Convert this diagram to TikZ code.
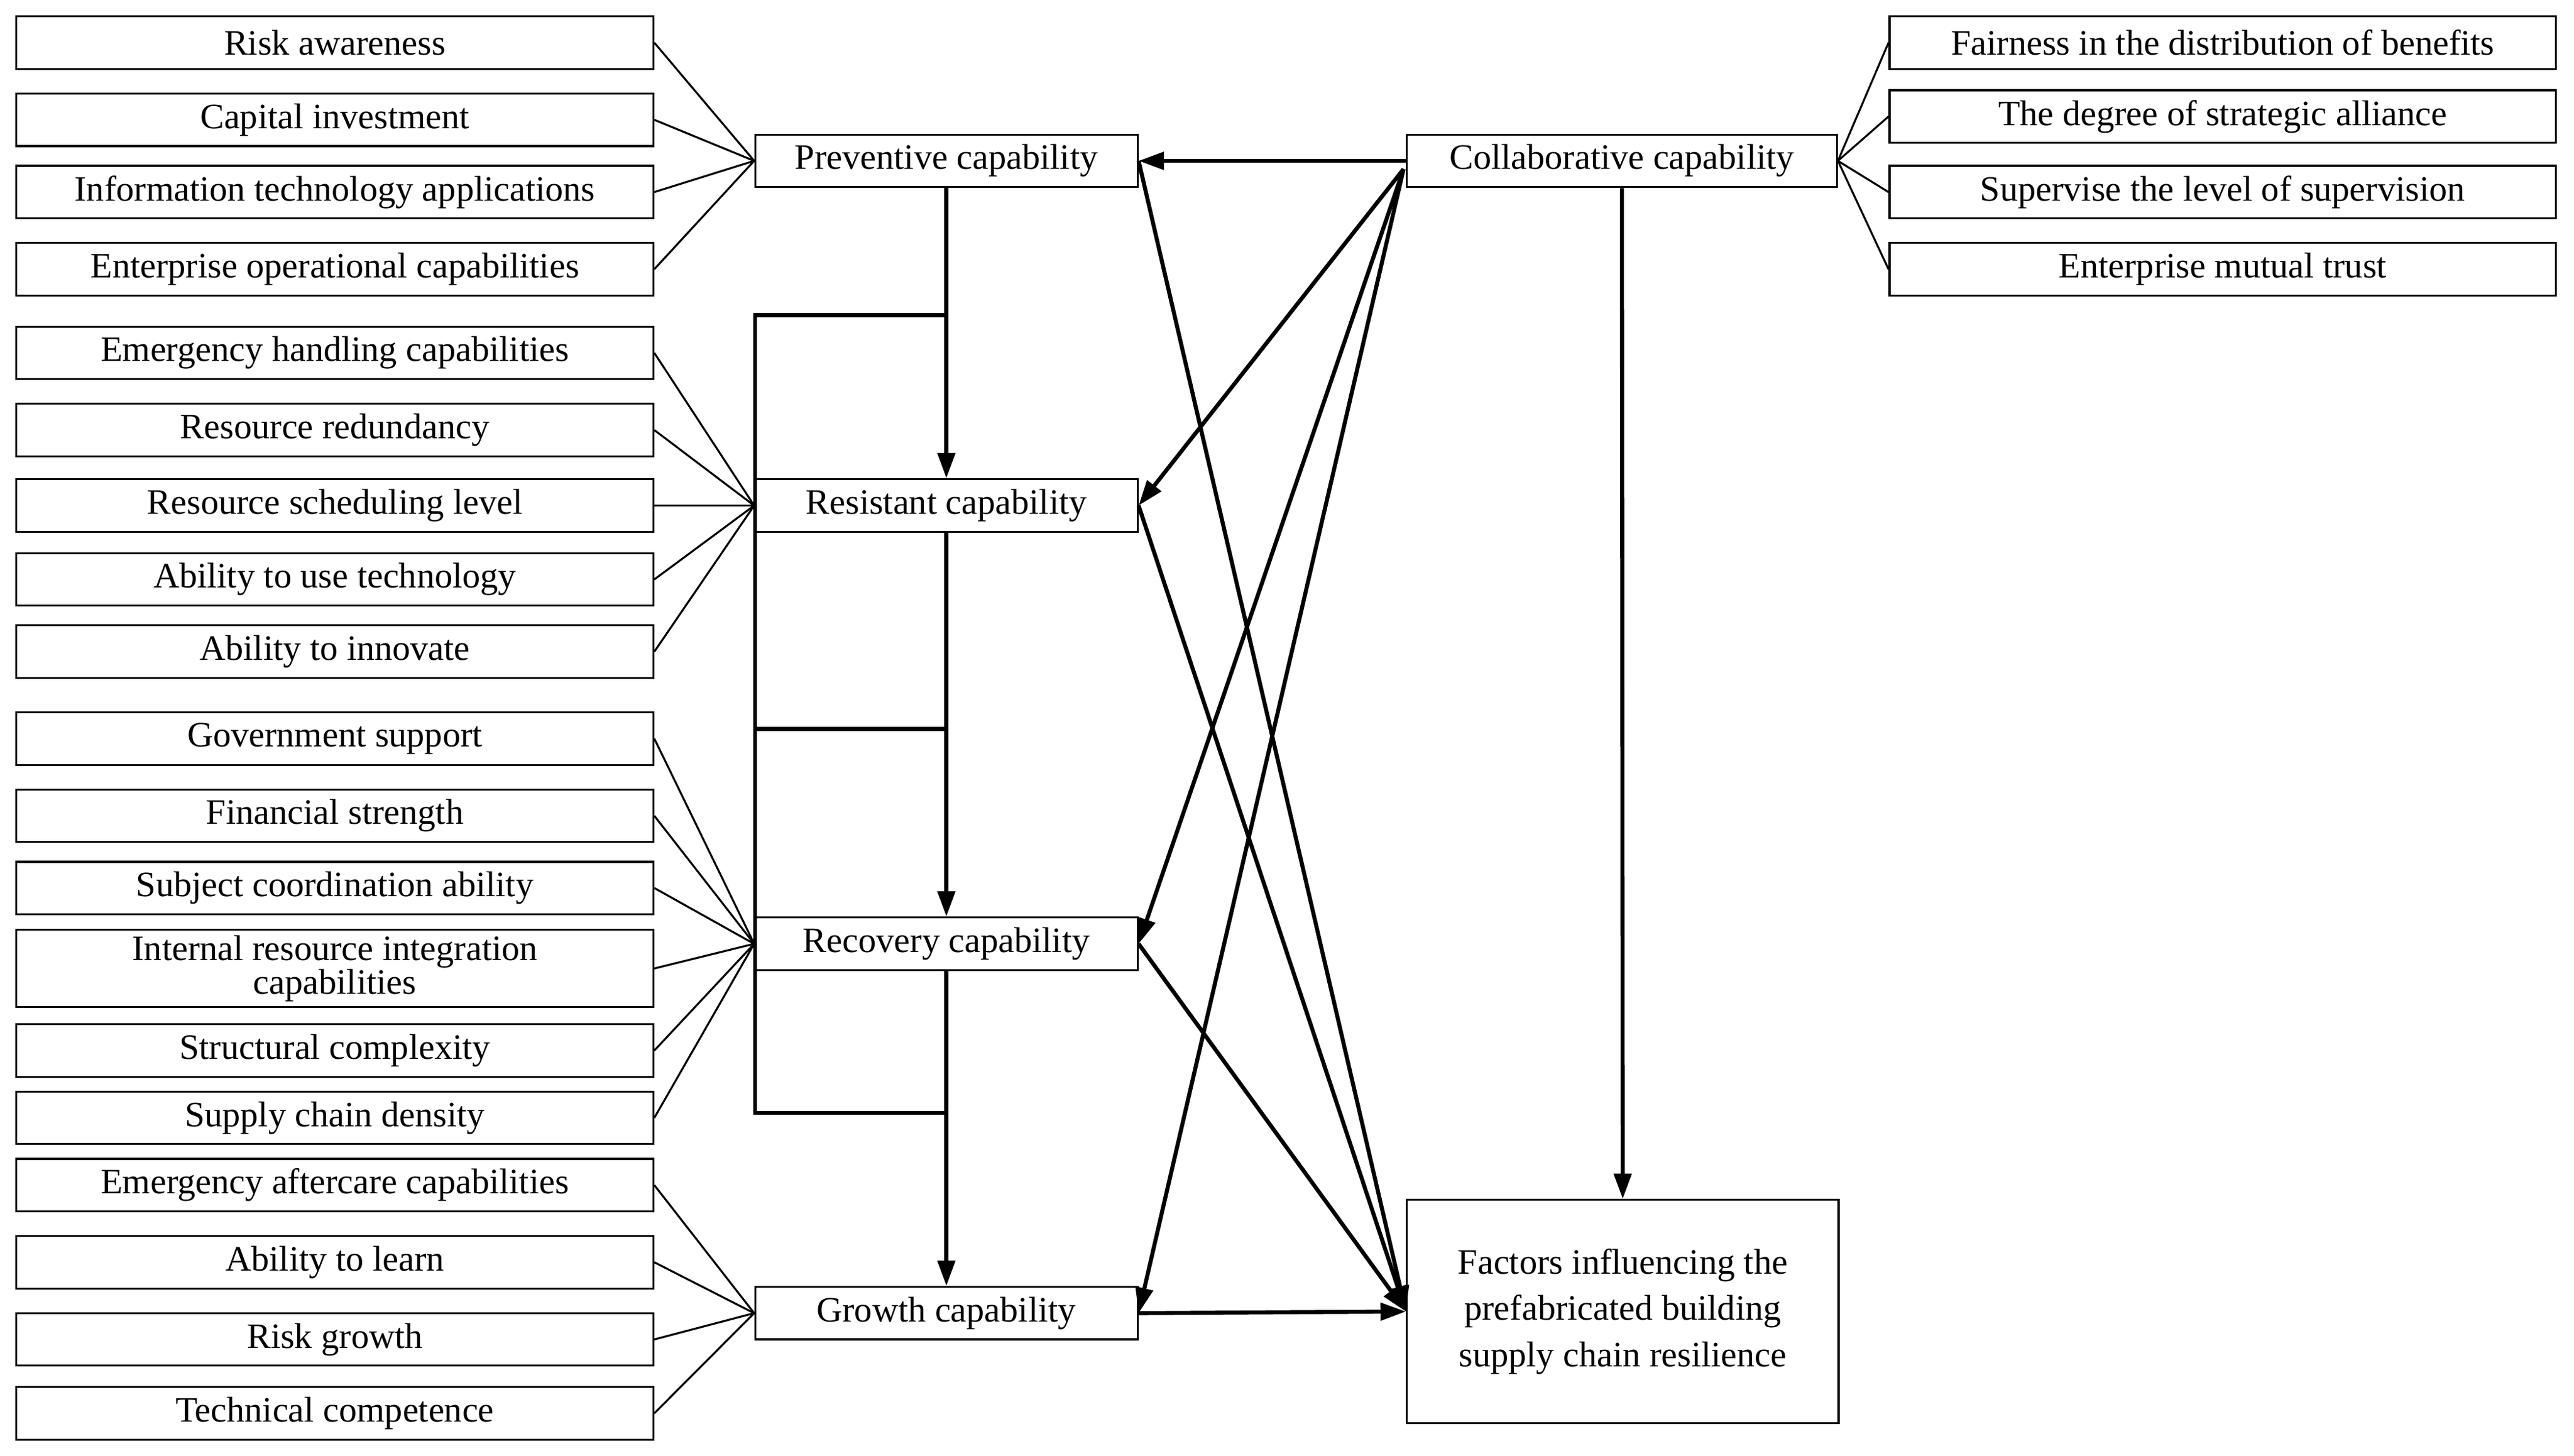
\documentclass[tikz,border=0pt]{standalone}
\usepackage{fontspec}
\setmainfont{Liberation Serif}
\usetikzlibrary{arrows.meta}
\begin{document}
\begin{tikzpicture}[x=0.5mm,y=-0.5mm,
 lb/.style={draw,line width=1.7pt,minimum width=388*0.5mm,minimum height=32*0.5mm,inner sep=0pt,font=\fontsize{31}{27}\selectfont,align=center},
 rb/.style={lb,minimum width=406*0.5mm},
 mb/.style={lb,minimum width=233*0.5mm},
 thin/.style={line width=1.7pt},
 arr/.style={line width=3.5pt,-{Triangle[length=22pt,width=15pt]}},
 thick/.style={line width=3.5pt}]
\useasboundingbox (0,0) rectangle (1568,887);
\foreach \n/\y/\t in {a1/26/Risk awareness,a2/73/Capital investment,a3/117/Information technology applications,a4/164/Enterprise operational capabilities,
 b1/215/Emergency handling capabilities,b2/262/Resource redundancy,b3/308/Resource scheduling level,b4/353/Ability to use technology,b5/397/Ability to innovate,
 c1/450/Government support,c2/497/Financial strength,c3/541/Subject coordination ability,c5/640/Structural complexity,c6/681/Supply chain density,
 d1/722/Emergency aftercare capabilities,d2/769/Ability to learn,d3/816/Risk growth,d4/861/Technical competence}
 \node[lb] (\n) at (204,\y) {\t};
\node[lb,minimum height=47*0.5mm] (c4) at (204,590) {Internal resource integration\\capabilities};
\node[mb] (P) at (576.5,98) {Preventive capability};
\node[mb] (S) at (576.5,308) {Resistant capability};
\node[mb] (R) at (576.5,575) {Recovery capability};
\node[mb] (G) at (576.5,800) {Growth capability};
\node[lb,minimum width=262*0.5mm] (C) at (988,98) {Collaborative capability};
\foreach \n/\y/\t in {e1/26/Fairness in the distribution of benefits,e2/71/The degree of strategic alliance,e3/117/Supervise the level of supervision,e4/164/Enterprise mutual trust}
 \node[rb] (\n) at (1354,\y) {\t};
\node[lb,minimum width=263*0.5mm,minimum height=136*0.5mm,font=\fontsize{31}{40}\selectfont] (F) at (988.5,799) {Factors influencing the\\prefabricated building\\supply chain resilience};
\foreach \n in {a1,a2,a3,a4} \draw[thin] (\n.east) -- (P.west);
\foreach \n in {b1,b2,b3,b4,b5} \draw[thin] (\n.east) -- (S.west);
\foreach \n in {c1,c2,c3,c4,c5,c6} \draw[thin] (\n.east) -- (R.west);
\foreach \n in {d1,d2,d3,d4} \draw[thin] (\n.east) -- (G.west);
\foreach \n in {e1,e2,e3,e4} \draw[thin] (C.east) -- (\n.west);
\draw[arr] (P.south) -- (S.north);
\draw[arr] (S.south) -- (R.north);
\draw[arr] (R.south) -- (G.north);
\draw[thick] (576,192) -- (460,192) -- (460,678) -- (576,678);
\draw[thick] (460,444) -- (576,444);
\coordinate (cw) at (855,103);
\draw[arr] (C.west) -- (P.east);
\draw[arr] (cw) -- (S.east);
\draw[arr] (cw) -- (R.east);
\draw[arr] (cw) -- (G.east);
\draw[arr] (P.east) -- (F.west);
\draw[arr] (S.east) -- (F.west);
\draw[arr] (R.east) -- (F.west);
\draw[arr] (G.east) -- (F.west);
\draw[arr] (C.south) -- (F.north);
\end{tikzpicture}
\end{document}
